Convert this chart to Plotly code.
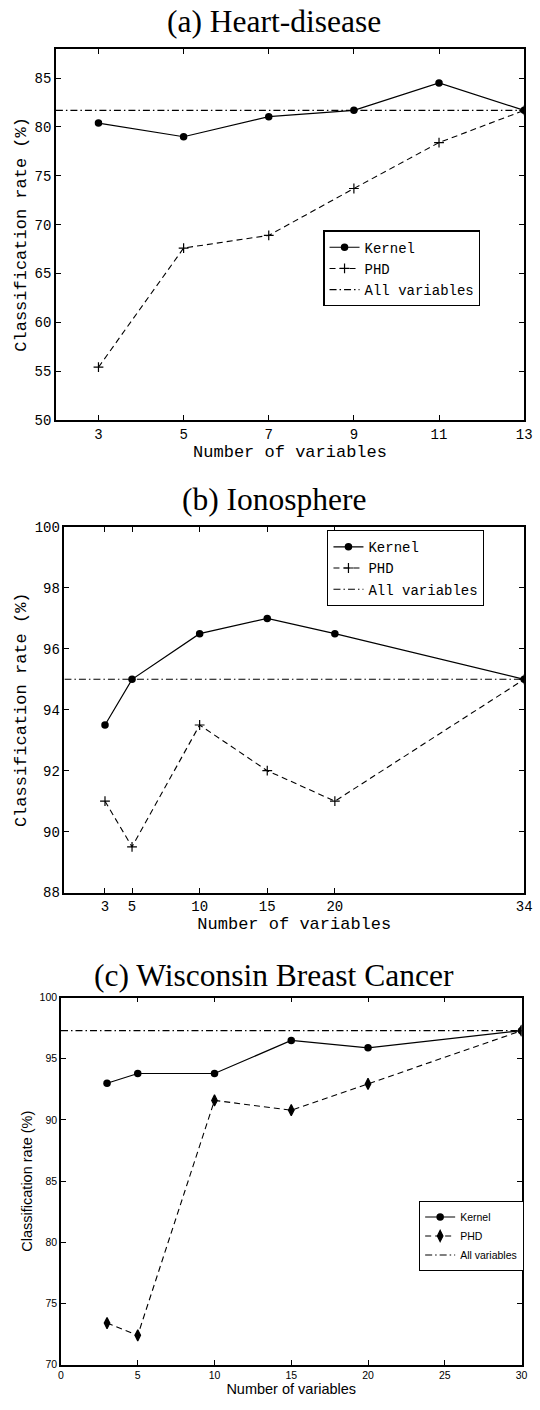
import plotly.graph_objects as go

# ---------------- data ----------------
# (a) Heart-disease
a_x = [3, 5, 7, 9, 11, 13]
a_kernel = [80.4, 79.0, 81.05, 81.7, 84.5, 81.7]
a_phd = [55.4, 67.6, 68.9, 73.7, 78.4, 81.7]
a_all = 81.7
a_xrange = [2, 13]
a_yrange = [50, 88]
a_xticks = [3, 5, 7, 9, 11, 13]
a_yticks = [50, 55, 60, 65, 70, 75, 80, 85]

# (b) Ionosphere
b_x = [3, 5, 10, 15, 20, 34]
b_kernel = [93.5, 95.0, 96.5, 97.0, 96.5, 95.0]
b_phd = [91.0, 89.5, 93.5, 92.0, 91.0, 95.0]
b_all = 95.0
b_xrange = [0, 34]
b_yrange = [88, 100]
b_xticks = [3, 5, 10, 15, 20, 34]
b_yticks = [88, 90, 92, 94, 96, 98, 100]

# (c) Wisconsin Breast Cancer
c_x = [3, 5, 10, 15, 20, 30]
c_kernel = [93.0, 93.8, 93.8, 96.5, 95.9, 97.3]
c_phd = [73.4, 72.4, 91.6, 90.8, 92.95, 97.3]
c_all = 97.3
c_xrange = [0, 30]
c_yrange = [70, 100]
c_xticks = [0, 5, 10, 15, 20, 25, 30]
c_yticks = [70, 75, 80, 85, 90, 95, 100]

titles = ["(a) Heart-disease", "(b) Ionosphere", "(c) Wisconsin Breast Cancer"]
xlabel = "Number of variables"
ylabel = "Classification rate (%)"
names = ["Kernel", "PHD", "All variables"]

MONO = "Liberation Mono"
SANS = "Liberation Sans"
SERIF = "Liberation Serif"
DASH = "6px,4px"
DASHDOT = "7px,3px,1.5px,3px"

fig = go.Figure()

panels = [
    dict(x=a_x, k=a_kernel, p=a_phd, allv=a_all, xr=a_xrange, yr=a_yrange,
         xt=a_xticks, yt=a_yticks, sym="cross-thin", psize=7, font=MONO,
         suffix="", legend="legend"),
    dict(x=b_x, k=b_kernel, p=b_phd, allv=b_all, xr=b_xrange, yr=b_yrange,
         xt=b_xticks, yt=b_yticks, sym="cross-thin", psize=7, font=MONO,
         suffix="2", legend="legend2"),
    dict(x=c_x, k=c_kernel, p=c_phd, allv=c_all, xr=c_xrange, yr=c_yrange,
         xt=c_xticks, yt=c_yticks, sym="diamond-tall", psize=8, font=SANS,
         suffix="3", legend="legend3"),
]

for pn in panels:
    xa = "x" + pn["suffix"]
    ya = "y" + pn["suffix"]
    fig.add_trace(go.Scatter(
        x=pn["x"], y=pn["k"], name=names[0], mode="lines+markers",
        line=dict(color="black", width=1.2),
        marker=dict(symbol="circle", size=7.5, color="black"),
        xaxis=xa, yaxis=ya, legend=pn["legend"]))
    pmarker = dict(symbol=pn["sym"], size=pn["psize"], color="black",
                   line=dict(color="black", width=1.2))
    fig.add_trace(go.Scatter(
        x=pn["x"], y=pn["p"], name=names[1], mode="lines+markers",
        line=dict(color="black", width=1.1, dash=DASH),
        marker=pmarker,
        xaxis=xa, yaxis=ya, legend=pn["legend"]))
    fig.add_trace(go.Scatter(
        x=pn["xr"], y=[pn["allv"], pn["allv"]], name=names[2], mode="lines",
        line=dict(color="black", width=1.1, dash=DASHDOT),
        xaxis=xa, yaxis=ya, legend=pn["legend"]))

def axis_common(font, size):
    return dict(showline=True, linecolor="black", linewidth=1.5, mirror="ticks",
                ticks="inside", ticklen=5, tickwidth=1, tickcolor="black",
                showgrid=False, zeroline=False,
                tickfont=dict(family=font, size=size, color="black"))

doms = [
    dict(x=[54/540, 532/540], y=[1-417.7/1410, 1-42.3/1410]),
    dict(x=[62.7/540, 532/540], y=[1-895.7/1410, 1-526/1410]),
    dict(x=[59.2/540, 529.3/540], y=[1-1373.3/1410, 1-1002/1410]),
]

layout = dict(width=540, height=1410, margin=dict(l=0, r=0, t=0, b=0),
              paper_bgcolor="white", plot_bgcolor="white", showlegend=True)

for i, pn in enumerate(panels):
    sfx = pn["suffix"]
    mono = pn["font"] == MONO
    tsize = 14 if mono else 10.5
    lsize = 17 if mono else 14.5
    xax = axis_common(pn["font"], tsize)
    xax.update(domain=doms[i]["x"], range=pn["xr"], tickmode="array",
               tickvals=pn["xt"], anchor="y" + sfx,
               title=dict(text=xlabel, font=dict(family=pn["font"], size=lsize, color="black"),
                          standoff=1))
    yax = axis_common(pn["font"], tsize)
    yax.update(domain=doms[i]["y"], range=pn["yr"], tickmode="array",
               tickvals=pn["yt"], anchor="x" + sfx,
               title=dict(text=ylabel, font=dict(family=pn["font"], size=lsize, color="black"),
                          standoff=4))
    layout["xaxis" + sfx] = xax
    layout["yaxis" + sfx] = yax

leg_pos = [(327/540, 1-226/1410), (331/540, 1-529/1410), (424.6/540, 1-1208/1410)]
for i, pn in enumerate(panels):
    mono = pn["font"] == MONO
    layout[pn["legend"]] = dict(
        x=leg_pos[i][0], y=leg_pos[i][1], xanchor="left", yanchor="top",
        bgcolor="white", bordercolor="black", borderwidth=1.2,
        font=dict(family=pn["font"], size=14 if mono else 10.5, color="black"),
        tracegroupgap=0, itemwidth=30)

title_y = [15, 498, 980]
annotations = []
for i, t in enumerate(titles):
    annotations.append(dict(text=t, x=277/540, y=1-title_y[i]/1410, xref="paper", yref="paper",
                            xanchor="center", yanchor="middle", showarrow=False,
                            font=dict(family=SERIF, size=31.5, color="black")))
layout["annotations"] = annotations

fig.update_layout(**layout)
fig.write_html("out.html", config={"displayModeBar": False},
               post_script="document.body.style.margin='0';")
